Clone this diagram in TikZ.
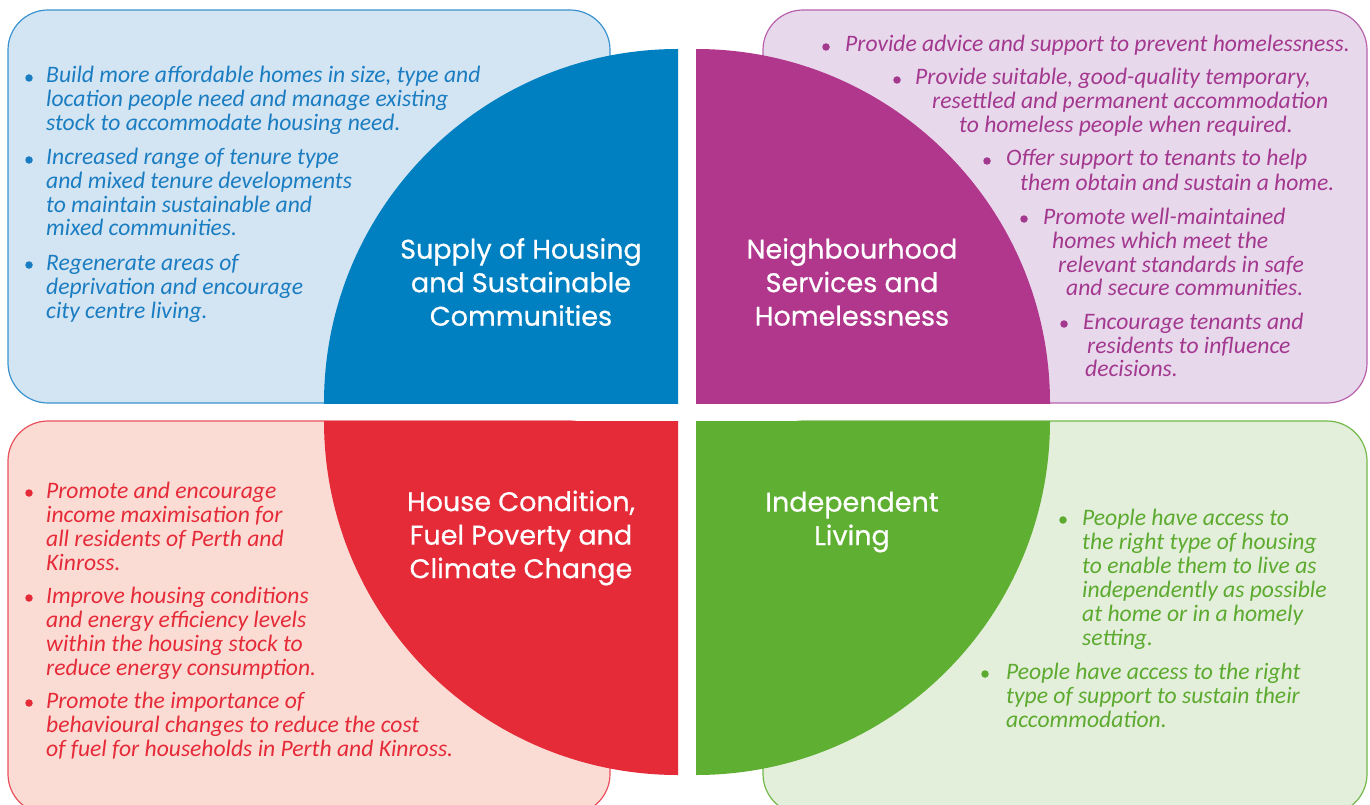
\documentclass[tikz,border=0pt]{standalone}
\usepackage{fontspec}
\setmainfont{Carlito}
\newfontfamily\headfont{Poppins}[FakeBold=0.6]
\definecolor{bluefill}{HTML}{0080C1}
\definecolor{bluebox}{HTML}{D3E4F3}
\definecolor{blueline}{HTML}{3A93D0}
\definecolor{bluetext}{HTML}{1B7DC1}
\definecolor{purplefill}{HTML}{B0378C}
\definecolor{purplebox}{HTML}{E8D8EC}
\definecolor{purpleline}{HTML}{B862AE}
\definecolor{purpletext}{HTML}{A3388F}
\definecolor{redfill}{HTML}{E52A38}
\definecolor{redbox}{HTML}{FBDCD5}
\definecolor{redline}{HTML}{E9505B}
\definecolor{redtext}{HTML}{E52A38}
\definecolor{greenfill}{HTML}{5FAF33}
\definecolor{greenbox}{HTML}{E3EFDA}
\definecolor{greenline}{HTML}{72B84A}
\definecolor{greentext}{HTML}{5DAA30}
\begin{document}
\begin{tikzpicture}[x=1pt,y=-1pt,
  panel/.style={line width=1.2pt, rounded corners=40pt},
  title/.style={font=\headfont\fontsize{27}{33.5}\selectfont, text=white, align=center, inner sep=0pt},
  item/.style={font=\itshape\fontsize{23.6}{24}\selectfont, anchor=base west, inner sep=0pt},
  dot/.style={circle, fill, inner sep=0pt, minimum size=7.5pt},
]
\useasboundingbox (0,0) rectangle (1370,805);
\clip (0,0) rectangle (1370,805);

% background panels
\draw[panel, draw=blueline, fill=bluebox] (8,10) rectangle (610,403);
\draw[panel, draw=purpleline, fill=purplebox] (763,10) rectangle (1367,403);
\draw[panel, draw=redline, fill=redbox] (8,421) rectangle (610,814);
\draw[panel, draw=greenline, fill=greenbox] (763,421) rectangle (1367,814);

% quarter discs around the centre
\begin{scope}
  \clip (324,49) rectangle (678,403);
  \fill[bluefill] (678,403) circle[radius=354];
\end{scope}
\begin{scope}
  \clip (696,49) rectangle (1050,403);
  \fill[purplefill] (696,403) circle[radius=354];
\end{scope}
\begin{scope}
  \clip (324,421) rectangle (678,775);
  \fill[redfill] (678,421) circle[radius=354];
\end{scope}
\begin{scope}
  \clip (696,421) rectangle (1050,775);
  \fill[greenfill] (696,421) circle[radius=354];
\end{scope}

% titles
\node[title] (supply) at (521,282) {Supply of Housing\\and Sustainable\\Communities};
\node[title] (neigh) at (852,282) {Neighbourhood\\Services and\\Homelessness};
\node[title] (house) at (521,538) {House Condition,\\Fuel Poverty and\\Climate Change};
\node[title] (indep) at (852,522) {Independent\\Living};

% supply of housing
\begin{scope}[every node/.append style={text=bluetext}]
\node[dot, bluetext] (tlb1) at (29,78) {};
\node[item] (tl1) at (46,83) {Build more affordable homes in size, type and};
\node[item] (tl2) at (46,107) {location people need and manage existing};
\node[item] (tl3) at (46,131) {stock to accommodate housing need.};
\node[dot, bluetext] (tlb2) at (29,160) {};
\node[item] (tl4) at (46,165) {Increased range of tenure type};
\node[item] (tl5) at (46,189) {and mixed tenure developments};
\node[item] (tl6) at (46,212) {to maintain sustainable and};
\node[item] (tl7) at (46,236) {mixed communities.};
\node[dot, bluetext] (tlb3) at (29,265) {};
\node[item] (tl8) at (46,270) {Regenerate areas of};
\node[item] (tl9) at (46,294) {deprivation and encourage};
\node[item] (tl10) at (46,318) {city centre living.};
\end{scope}

% neighbourhood services
\begin{scope}[every node/.append style={text=purpletext}]
\node[dot, purpletext] (trb1) at (826,47) {};
\node[item] (tr1) at (845,52) {Provide advice and support to prevent homelessness.};
\node[dot, purpletext] (trb2) at (897,80) {};
\node[item] (tr2) at (915,85) {Provide suitable, good-quality temporary,};
\node[item] (tr3) at (932,109) {resettled and permanent accommodation};
\node[item] (tr4) at (959,133) {to homeless people when required.};
\node[dot, purpletext] (trb3) at (987,161) {};
\node[item] (tr5) at (1006,166) {Offer support to tenants to help};
\node[item] (tr6) at (1020,190) {them obtain and sustain a home.};
\node[dot, purpletext] (trb4) at (1024,219) {};
\node[item] (tr7) at (1043,224) {Promote well-maintained};
\node[item] (tr8) at (1052,248) {homes which meet the};
\node[item] (tr9) at (1058,272) {relevant standards in safe};
\node[item] (tr10) at (1066,295) {and secure communities.};
\node[dot, purpletext] (trb5) at (1064,324) {};
\node[item] (tr11) at (1083,329) {Encourage tenants and};
\node[item] (tr12) at (1087,353) {residents to influence};
\node[item] (tr13) at (1085,376) {decisions.};
\end{scope}

% house condition
\begin{scope}[every node/.append style={text=redtext}]
\node[dot, redtext] (blb1) at (29,493) {};
\node[item] (bl1) at (46,498) {Promote and encourage};
\node[item] (bl2) at (46,522) {income maximisation for};
\node[item] (bl3) at (46,546) {all residents of Perth and};
\node[item] (bl4) at (46,570) {Kinross.};
\node[dot, redtext] (blb2) at (29,598) {};
\node[item] (bl5) at (46,603) {Improve housing conditions};
\node[item] (bl6) at (46,627) {and energy efficiency levels};
\node[item] (bl7) at (46,651) {within the housing stock to};
\node[item] (bl8) at (46,675) {reduce energy consumption.};
\node[dot, redtext] (blb3) at (29,703) {};
\node[item] (bl9) at (46,708) {Promote the importance of};
\node[item] (bl10) at (46,732) {behavioural changes to reduce the cost};
\node[item] (bl11) at (46,756) {of fuel for households in Perth and Kinross.};
\end{scope}

% independent living
\begin{scope}[every node/.append style={text=greentext}]
\node[dot, greentext] (brb1) at (1063,520) {};
\node[item] (br1) at (1082,525) {People have access to};
\node[item] (br2) at (1082,549) {the right type of housing};
\node[item] (br3) at (1082,573) {to enable them to live as};
\node[item] (br4) at (1082,597) {independently as possible};
\node[item] (br5) at (1082,621) {at home or in a homely};
\node[item] (br6) at (1082,645) {setting.};
\node[dot, greentext] (brb2) at (985,674) {};
\node[item] (br7) at (1006,679) {People have access to the right};
\node[item] (br8) at (1006,703) {type of support to sustain their};
\node[item] (br9) at (1006,727) {accommodation.};
\end{scope}
\end{tikzpicture}
\end{document}
